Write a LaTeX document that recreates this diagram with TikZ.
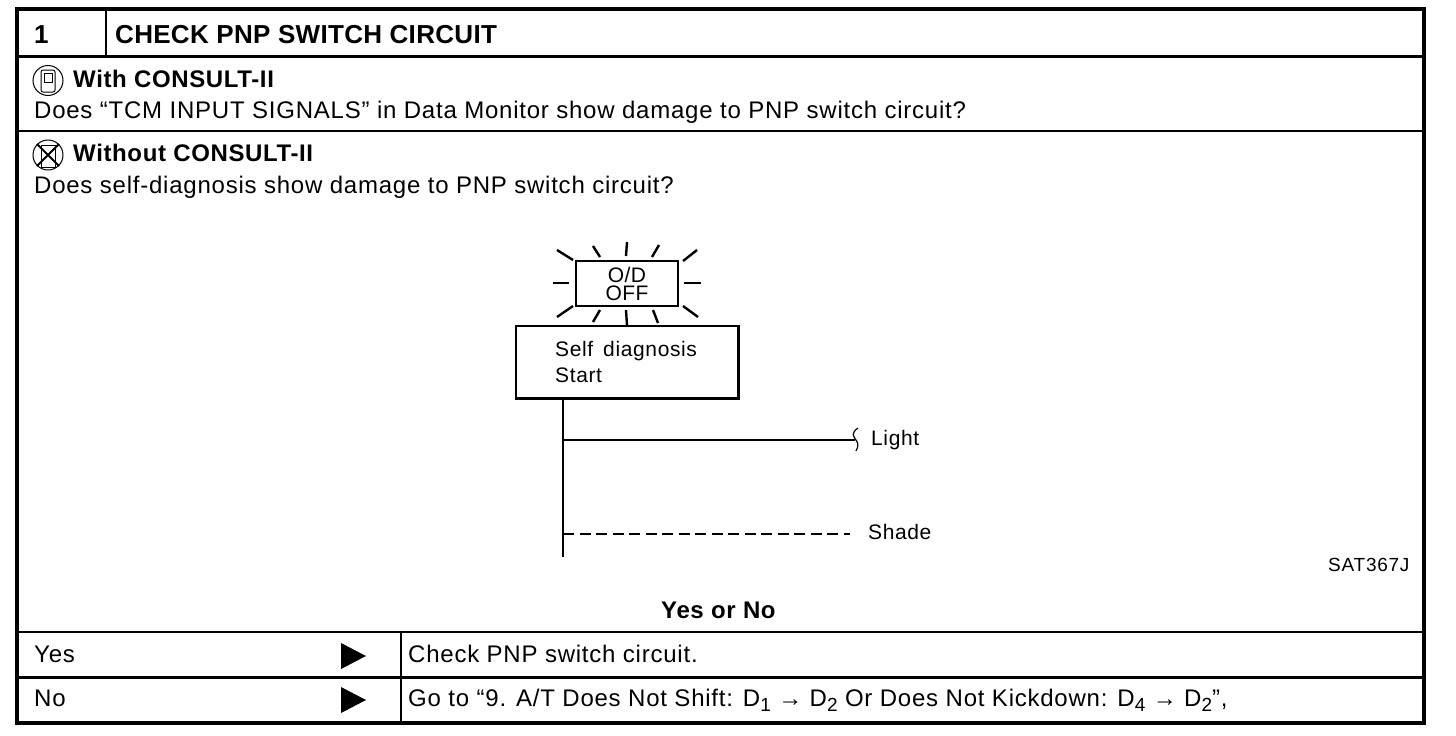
\documentclass[tikz,border=0pt]{standalone}
\usepackage{fontspec}
\setmainfont{Liberation Sans}
\newcommand{\subnum}[1]{\raisebox{-5pt}{\fontsize{19}{19}\selectfont #1}}
\tikzset{
	label/.style={anchor=base west, inner sep=0pt, font=\fontsize{24}{27}\selectfont\addfontfeature{LetterSpace=3.2}},
	boldlabel/.style={label, font=\fontsize{24}{28}\selectfont\bfseries\addfontfeature{LetterSpace=2.6}},
	titlelabel/.style={label, font=\fontsize{26}{28}\selectfont\bfseries\addfontfeature{LetterSpace=1.2}},
	small/.style={label, font=\fontsize{21}{22}\selectfont\addfontfeature{LetterSpace=3}},
	rule/.style={line width=2.2pt},
	frame/.style={line width=4.5pt},
	ray/.style={line width=2.4pt},
	branch/.style={line width=2.4pt}
}
\begin{document}
\begin{tikzpicture}[x=1pt,y=-1pt]
\useasboundingbox (0,0) rectangle (1456,736);

% table
\draw[frame] (17,9) rectangle (1424,723);
\draw[rule] (17,56.5)--(1424,56.5);
\draw[rule] (17,131)--(1424,131);
\draw[rule] (17,632)--(1424,632);
\draw[line width=3pt] (17,677)--(1424,677);
\draw[rule] (106,9)--(106,56.5);
\draw[line width=1.6pt] (401,632)--(401,723);

% header and questions
\node[titlelabel] (number) at (34,43) {1};
\node[titlelabel] (title) at (115,43) {CHECK PNP SWITCH CIRCUIT};
\node[boldlabel] (with) at (73,87) {With CONSULT-II};
\node[label] (withtext) at (34,118) {Does “TCM INPUT SIGNALS” in Data Monitor show damage to PNP switch circuit?};
\node[boldlabel] (without) at (73,161) {Without CONSULT-II};
\node[label] (withouttext) at (34,193) {Does self-diagnosis show damage to PNP switch circuit?};

% icons
\draw[line width=1pt] (48,80.5) circle (15);
\draw[line width=1pt, rounded corners=2] (41,70) rectangle (55,92);
\draw[line width=1pt] (44,73) rectangle (52,82);
\draw[line width=1pt] (48,155) circle (15);
\draw[line width=1pt] (41,145) rectangle (55,167);
\draw[line width=2pt] (37,144)--(59,166);
\draw[line width=2pt] (59,144)--(37,166);

% warning lamp
\node[draw, line width=1.6pt, minimum width=102pt, minimum height=45pt, inner sep=0pt, align=center,
	font=\fontsize{21}{18}\selectfont\addfontfeature{LetterSpace=2}] (lamp) at (627,283.5) {O/D\\OFF};
\foreach \xa/\ya/\xb/\yb in {557/250/573/260, 593/246/600/257, 627/242/626/256, 659/245/652/257, 697/250/683/261,
	553/283/569/283, 684/283/701/283,
	557/317/573/306, 593/322/600/310, 627/325/626/310, 658/323/653/310, 698/317/683/306}
	\draw[ray] (\xa,\ya)--(\xb,\yb);

% self diagnosis box
\node[draw, line width=1.6pt, minimum width=222pt, minimum height=72pt, inner sep=0pt] (selfbox) at (627,362) {};
\draw[line width=3pt] (selfbox.south west)--(selfbox.south east)--(selfbox.north east);
\node[small] (selftext) at (555,356) {Self\, diagnosis};
\node[small] (starttext) at (555,382) {Start};

% timing lines
\coordinate (trunk) at (563,398);
\coordinate (trunkend) at (563,557);
\node[small] (light) at (871,445) {Light};
\node[small] (shade) at (868,539) {Shade};
\coordinate (lightend) at (855,440);
\coordinate (shadeend) at (850,534);
\draw[branch] (trunk)--(trunkend);
\draw[branch] (trunk|-lightend)--(lightend);
\draw[branch, dash pattern=on 11pt off 5.5pt] (trunk|-shadeend)--(shadeend);
\draw[line width=1.2pt] (858,428) .. controls (851,433) and (853,436) .. (856,440) .. controls (859,444) and (858,447) .. (856,451);
\node[small, font=\fontsize{19}{20}\selectfont\addfontfeature{LetterSpace=4}] (code) at (1328,571) {SAT367J};

% result rows
\node[boldlabel] (yesno) at (661,618) {Yes or No};
\node[label] (yes) at (34,662) {Yes};
\node[label] (no) at (34,706) {No};
\fill (341,643)--(366,656)--(341,669)--cycle;
\fill (341,687)--(366,700)--(341,713)--cycle;
\node[label] (yesresult) at (408,662) {Check PNP switch circuit.};
\node[label] (noresult) at (408,706) {Go to “9. A/T Does Not Shift: D\subnum{1} → D\subnum{2} Or Does Not Kickdown: D\subnum{4} → D\subnum{2}”,};

\end{tikzpicture}
\end{document}
